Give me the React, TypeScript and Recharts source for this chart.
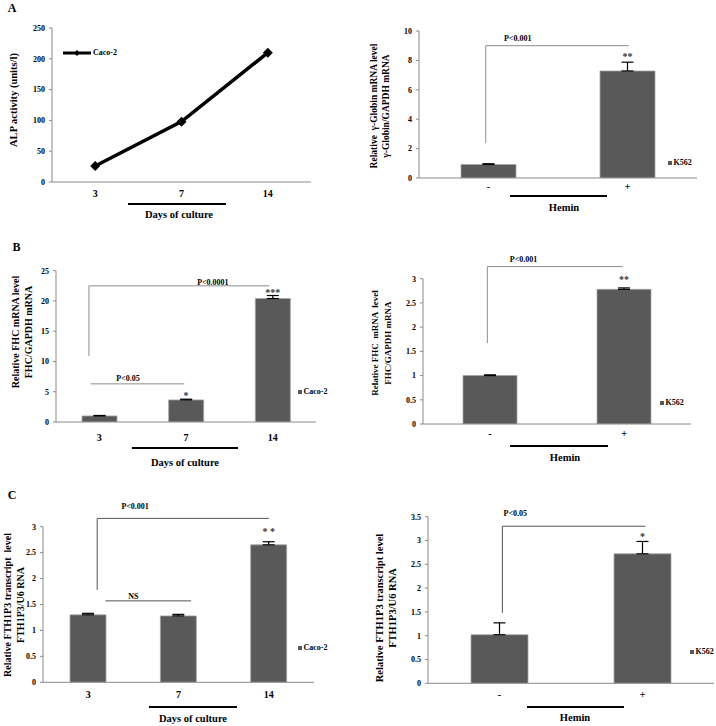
import React from 'react';
import {
  ComposedChart,
  Bar,
  Line,
  XAxis,
  YAxis,
  ErrorBar,
  ReferenceLine,
  ReferenceDot,
  Legend,
} from 'recharts';

const FONT = '"Liberation Serif","Times New Roman",Times,serif';
const AXIS = '#8a8a8a';
const BAR_FILL = '#595959';

// ---------- data ----------
const dayLabels = ['3', '7', '14'];
const heminLabels = ['-', '+'];

const alpActivity = [26, 98, 210];
const alpTicks = [0, 50, 100, 150, 200, 250];

const globinMean = [0.92, 7.28];
const globinErr = [0.05, 0.6];
const globinTicks = [0, 2, 4, 6, 8, 10];
const globinStars = ['', '**'];

const fhcCacoMean = [1.0, 3.65, 20.4];
const fhcCacoErr = [0.08, 0.12, 0.5];
const fhcCacoTicks = [0, 5, 10, 15, 20, 25];
const fhcCacoStars = ['', '*', '***'];

const fhcK562Mean = [1.0, 2.78];
const fhcK562Err = [0.015, 0.03];
const fhcK562Ticks = [0, 0.5, 1, 1.5, 2, 2.5, 3];
const fhcK562Stars = ['', '**'];

const fthCacoMean = [1.3, 1.28, 2.65];
const fthCacoErr = [0.03, 0.03, 0.06];
const fthCacoTicks = [0, 0.5, 1, 1.5, 2, 2.5, 3];
const fthCacoStars = ['', '', '* *'];

const fthK562Mean = [1.02, 2.72];
const fthK562Err = [0.25, 0.26];
const fthK562Ticks = [0, 0.5, 1, 1.5, 2, 2.5, 3, 3.5];
const fthK562Stars = ['', '*'];

type Seg = { x1: number; y1: number; x2: number; y2: number };
type Note = { x: number; y: number; text: string; offset: number };

type PanelProps = {
  left: number;
  top: number;
  width: number;
  height: number;
  margin: { top: number; right: number; bottom: number; left: number };
  yAxisWidth: number;
  categories: string[];
  values: number[];
  errors?: number[];
  stars?: string[];
  yTicks: number[];
  kind: 'bar' | 'line';
  barSize?: number;
  seriesName: string;
  segments: Seg[];
  notes: Note[];
  starOffset?: number;
  catMargin: number;
  legendPos: { left: number; top: number };
  segStroke?: string;
};

const NUM = 'a_num';
const CAT = 'b_cat';

const tickStyle = { fontSize: 8, fontWeight: 700, fill: '#000', fontFamily: FONT };

const Diamond = (p: any) => {
  const { cx, cy, index } = p;
  if (cx == null || cy == null) return <g key={index} />;
  const r = 5;
  return (
    <polygon
      key={index}
      points={`${cx},${cy - r} ${cx + r},${cy} ${cx},${cy + r} ${cx - r},${cy}`}
      fill="#000"
    />
  );
};

function makeLegend(kind: 'bar' | 'line') {
  return (props: any) => {
    const item = (props.payload || [])[0];
    if (!item) return null;
    if (kind === 'line') {
      return (
        <div style={{ display: 'flex', alignItems: 'center', whiteSpace: 'nowrap', font: `bold 8px ${FONT}`, lineHeight: '10px', color: '#000' }}>
          <svg width={28} height={8} style={{ marginRight: 2 }}>
            <line x1={0} y1={4} x2={28} y2={4} stroke="#000" strokeWidth={3} />
            <polygon points="14,1 17,4 14,7 11,4" fill="#000" />
          </svg>
          {item.value}
        </div>
      );
    }
    return (
      <div style={{ display: 'flex', alignItems: 'center', whiteSpace: 'nowrap', font: `bold 8px ${FONT}`, lineHeight: '10px', color: '#000' }}>
        <span style={{ display: 'inline-block', width: 4, height: 4, background: BAR_FILL, marginRight: 1.5 }} />
        {item.value}
      </div>
    );
  };
}

function Panel(p: PanelProps) {
  const n = p.categories.length;
  const rows = p.categories.map((c, i) => ({
    cat: c,
    pos: i + 0.5,
    value: p.values[i],
    err: p.errors ? [0, p.errors[i]] : undefined,
  }));
  const numTicks = p.categories.map((_, i) => i).concat([n]);
  const yMax = p.yTicks[p.yTicks.length - 1];
  const segStroke = p.segStroke || '#6e6e6e';
  return (
    <div style={{ position: 'absolute', left: p.left, top: p.top, width: p.width, height: p.height }}>
      <ComposedChart width={p.width} height={p.height} data={rows} margin={p.margin}>
        <XAxis
          xAxisId={CAT}
          dataKey="cat"
          type="category"
          scale="band"
          height={20}
          axisLine={false}
          tickLine={false}
          tickSize={0}
          tickMargin={p.catMargin}
          interval={0}
          tick={{ fontSize: 10, fontWeight: 700, fill: '#000', fontFamily: FONT }}
        />
        <XAxis
          xAxisId={NUM}
          dataKey="pos"
          type="number"
          domain={[0, n]}
          ticks={numTicks}
          allowDataOverflow
          tick={false}
          tickSize={4}
          height={1}
          axisLine={{ stroke: AXIS }}
          tickLine={{ stroke: AXIS }}
        />
        <YAxis
          type="number"
          domain={[0, yMax]}
          ticks={p.yTicks}
          interval={0}
          allowDataOverflow
          width={p.yAxisWidth}
          tickSize={3}
          tickMargin={4}
          axisLine={{ stroke: AXIS }}
          tickLine={{ stroke: AXIS }}
          tick={tickStyle}
        />
        {p.kind === 'bar' ? (
          <Bar
            xAxisId={CAT}
            dataKey="value"
            name={p.seriesName}
            fill={BAR_FILL}
            stroke="#a5a5a5"
            strokeWidth={0.8}
            barSize={p.barSize}
            isAnimationActive={false}
          >
            {p.errors && (
              <ErrorBar dataKey="err" direction="y" width={6} stroke="#000" strokeWidth={1.2} />
            )}
          </Bar>
        ) : (
          <Line
            xAxisId={CAT}
            dataKey="value"
            name={p.seriesName}
            stroke="#000"
            strokeWidth={3.5}
            dot={Diamond}
            activeDot={false}
            isAnimationActive={false}
          />
        )}
        {p.segments.map((s, i) => (
          <ReferenceLine
            key={`seg${i}`}
            xAxisId={NUM}
            segment={[
              { x: s.x1, y: s.y1 },
              { x: s.x2, y: s.y2 },
            ]}
            stroke={segStroke}
            strokeWidth={1}
            ifOverflow="visible"
          />
        ))}
        {p.notes.map((t, i) => (
          <ReferenceDot
            key={`note${i}`}
            xAxisId={NUM}
            x={t.x}
            y={t.y}
            r={0}
            fill="none"
            stroke="none"
            ifOverflow="visible"
            label={{
              value: t.text,
              position: 'top',
              offset: t.offset,
              fontSize: 8,
              fontWeight: 700,
              fill: '#000',
              fontFamily: FONT,
            }}
          />
        ))}
        {p.stars &&
          p.stars.map((st, i) =>
            st ? (
              <ReferenceDot
                key={`star${i}`}
                xAxisId={CAT}
                x={p.categories[i]}
                y={p.values[i] + (p.errors ? p.errors[i] : 0)}
                r={0}
                fill="none"
                stroke="none"
                ifOverflow="visible"
                label={{
                  value: st,
                  position: 'top',
                  offset: p.starOffset ?? 2,
                  fontSize: 10,
                  fontWeight: 700,
                  fill: '#333',
                  fontFamily: FONT,
                }}
              />
            ) : null
          )}
        <Legend
          layout="horizontal"
          align="center"
          verticalAlign="middle"
          content={makeLegend(p.kind)}
          wrapperStyle={{ left: p.legendPos.left, top: p.legendPos.top, width: 'auto', height: 'auto' }}
        />
      </ComposedChart>
    </div>
  );
}

const RotLabel = ({ cx, cy, lines, size, gap }: { cx: number; cy: number; lines: string[]; size: number; gap: number }) => (
  <div
    style={{
      position: 'absolute',
      left: cx,
      top: cy,
      transform: 'translate(-50%, -50%) rotate(-90deg)',
      whiteSpace: 'pre',
      textAlign: 'center',
      font: `bold ${size}px ${FONT}`,
      lineHeight: `${gap}px`,
      color: '#000',
    }}
  >
    {lines.map((l, i) => (
      <div key={i}>{l}</div>
    ))}
  </div>
);

const CText = ({ cx, cy, text, size }: { cx: number; cy: number; text: string; size: number }) => (
  <div
    style={{
      position: 'absolute',
      left: cx,
      top: cy,
      transform: 'translate(-50%, -50%)',
      whiteSpace: 'pre',
      font: `bold ${size}px ${FONT}`,
      lineHeight: `${size + 2}px`,
      color: '#000',
    }}
  >
    {text}
  </div>
);

const HLine = ({ x1, x2, y }: { x1: number; x2: number; y: number }) => (
  <div style={{ position: 'absolute', left: x1, top: y - 0.75, width: x2 - x1, height: 1.5, background: '#000' }} />
);

export default function App() {
  return (
    <div style={{ position: 'absolute', left: 0, top: 0, width: 716, height: 726, background: '#fff', overflow: 'hidden', fontFamily: FONT }}>
      {/* Panel A left */}
      <Panel
        left={0}
        top={0}
        width={360}
        height={230}
        margin={{ top: 28, right: 49, bottom: 27, left: 12 }}
        yAxisWidth={40}
        categories={dayLabels}
        values={alpActivity}
        yTicks={alpTicks}
        kind="line"
        seriesName="Caco-2"
        segments={[]}
        notes={[]}
        catMargin={7}
        legendPos={{ left: 63, top: 48 }}
      />
      {/* Panel A right */}
      <Panel
        left={360}
        top={0}
        width={356}
        height={230}
        margin={{ top: 31, right: 19, bottom: 31, left: 29 }}
        yAxisWidth={30}
        categories={heminLabels}
        values={globinMean}
        errors={globinErr}
        stars={globinStars}
        starOffset={2}
        yTicks={globinTicks}
        kind="bar"
        barSize={55}
        seriesName="K562"
        segments={[
          { x1: 0.48, y1: 2.4, x2: 0.48, y2: 9.0 },
          { x1: 0.48, y1: 9.0, x2: 1.51, y2: 9.0 },
        ]}
        notes={[{ x: 0.71, y: 9.0, text: 'P<0.001', offset: 5 }]}
        segStroke="#8c8c8c"
        catMargin={4}
        legendPos={{ left: 308, top: 158 }}
      />
      {/* Panel B left */}
      <Panel
        left={0}
        top={230}
        width={360}
        height={250}
        margin={{ top: 40.7, right: 44, bottom: 37, left: 16 }}
        yAxisWidth={40}
        categories={dayLabels}
        values={fhcCacoMean}
        errors={fhcCacoErr}
        stars={fhcCacoStars}
        starOffset={0}
        yTicks={fhcCacoTicks}
        kind="bar"
        barSize={35}
        seriesName="Caco-2"
        segments={[
          { x1: 0.38, y1: 10.9, x2: 0.38, y2: 22.5 },
          { x1: 0.38, y1: 22.5, x2: 2.46, y2: 22.5 },
          { x1: 0.4, y1: 6.3, x2: 1.48, y2: 6.3 },
        ]}
        notes={[
          { x: 1.81, y: 22.5, text: 'P<0.0001', offset: 1 },
          { x: 0.83, y: 6.3, text: 'P<0.05', offset: 3 },
        ]}
        segStroke="#8c8c8c"
        catMargin={11}
        legendPos={{ left: 298, top: 157 }}
      />
      {/* Panel B right */}
      <Panel
        left={360}
        top={230}
        width={356}
        height={250}
        margin={{ top: 48.7, right: 25, bottom: 35, left: 33 }}
        yAxisWidth={30}
        categories={heminLabels}
        values={fhcK562Mean}
        errors={fhcK562Err}
        stars={fhcK562Stars}
        starOffset={5}
        yTicks={fhcK562Ticks}
        kind="bar"
        barSize={54}
        seriesName="K562"
        segments={[
          { x1: 0.48, y1: 1.67, x2: 0.48, y2: 3.25 },
          { x1: 0.48, y1: 3.25, x2: 1.49, y2: 3.25 },
        ]}
        notes={[{ x: 0.75, y: 3.25, text: 'P<0.001', offset: 5 }]}
        segStroke="#8c8c8c"
        catMargin={5}
        legendPos={{ left: 300, top: 168 }}
      />
      {/* Panel C left */}
      <Panel
        left={0}
        top={480}
        width={360}
        height={246}
        margin={{ top: 46.7, right: 46, bottom: 22.7, left: 11 }}
        yAxisWidth={32}
        categories={dayLabels}
        values={fthCacoMean}
        errors={fthCacoErr}
        stars={fthCacoStars}
        starOffset={7}
        yTicks={fthCacoTicks}
        kind="bar"
        barSize={36}
        seriesName="Caco-2"
        segments={[
          { x1: 0.6, y1: 1.78, x2: 0.6, y2: 3.16 },
          { x1: 0.6, y1: 3.16, x2: 2.5, y2: 3.16 },
          { x1: 0.69, y1: 1.57, x2: 1.64, y2: 1.57 },
        ]}
        notes={[
          { x: 1.02, y: 3.16, text: 'P<0.001', offset: 9 },
          { x: 1.0, y: 1.57, text: 'NS', offset: 1.5 },
        ]}
        segStroke="#555"
        catMargin={8}
        legendPos={{ left: 298, top: 163 }}
      />
      {/* Panel C right */}
      <Panel
        left={360}
        top={480}
        width={356}
        height={246}
        margin={{ top: 36.7, right: 2, bottom: 21.7, left: 38 }}
        yAxisWidth={30}
        categories={heminLabels}
        values={fthK562Mean}
        errors={fthK562Err}
        stars={fthK562Stars}
        starOffset={1.5}
        yTicks={fthK562Ticks}
        kind="bar"
        barSize={57}
        seriesName="K562"
        segments={[
          { x1: 0.52, y1: 1.48, x2: 0.52, y2: 3.3 },
          { x1: 0.52, y1: 3.3, x2: 1.52, y2: 3.3 },
        ]}
        notes={[{ x: 0.61, y: 3.3, text: 'P<0.05', offset: 10 }]}
        segStroke="#555"
        catMargin={7}
        legendPos={{ left: 330, top: 167 }}
      />

      {/* panel letters */}
      <CText cx={12} cy={7.5} text="A" size={12} />
      <CText cx={16.5} cy={247} text="B" size={12} />
      <CText cx={12} cy={495} text="C" size={12} />

      {/* y-axis titles */}
      <RotLabel cx={14} cy={100} lines={['ALP activity (units/l)']} size={10.5} gap={12} />
      <RotLabel cx={380} cy={106} lines={['Relative  \u03b3-Globin mRNA level', '\u03b3-Globin/GAPDH mRNA']} size={9.5} gap={12} />
      <RotLabel cx={21.5} cy={332} lines={['Relative FHC mRNA level', 'FHC/GAPDH mRNA']} size={10} gap={13} />
      <RotLabel cx={381.5} cy={343} lines={['Relative FHC  mRNA  level', 'FHC/GAPDH mRNA']} size={9} gap={13} />
      <RotLabel cx={13.5} cy={605} lines={['Relative FTH1P3 transcript  level', 'FTH1P3/U6 RNA']} size={10} gap={13} />
      <RotLabel cx={385.5} cy={608} lines={['Relative FTH1P3 transcript level', 'FTH1P3/U6 RNA']} size={10.5} gap={13} />

      {/* x-axis titles and underlines */}
      <HLine x1={128} x2={226} y={204} />
      <CText cx={179} cy={215} text="Days of culture" size={10.5} />
      <HLine x1={510} x2={607} y={196} />
      <CText cx={564} cy={208} text="Hemin" size={10.5} />

      <HLine x1={132} x2={238} y={448} />
      <CText cx={185} cy={463} text="Days of culture" size={10.5} />
      <HLine x1={510} x2={608} y={446} />
      <CText cx={565} cy={458} text="Hemin" size={10.5} />

      <HLine x1={149} x2={237} y={707} />
      <CText cx={193} cy={719} text="Days of culture" size={10.5} />
      <HLine x1={527} x2={624} y={707} />
      <CText cx={575} cy={718} text="Hemin" size={10.5} />
    </div>
  );
}
